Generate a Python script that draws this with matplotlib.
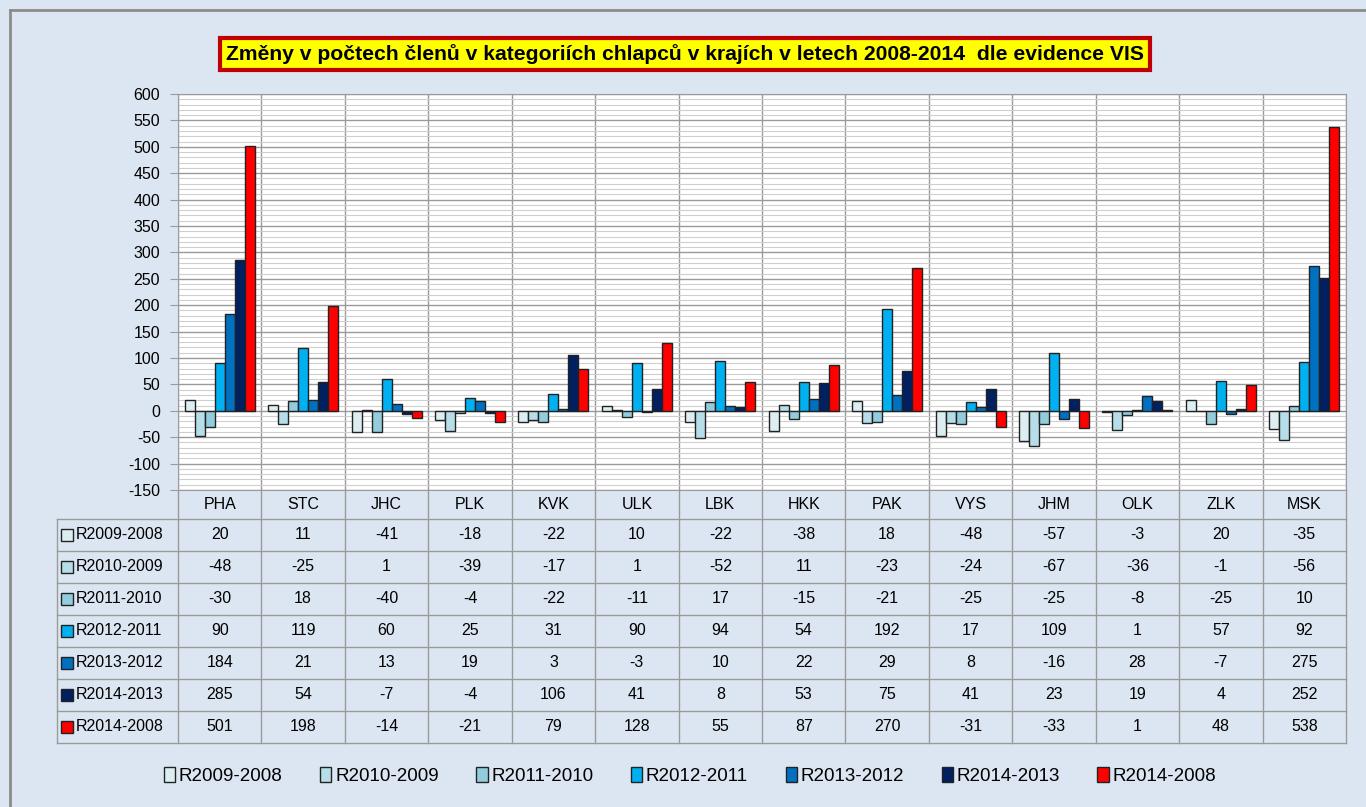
import matplotlib.pyplot as plt
import numpy as np
from matplotlib.lines import Line2D
from matplotlib.patches import Patch
from matplotlib.ticker import MultipleLocator

plt.rcParams['font.family'] = ['Liberation Sans', 'DejaVu Sans']
plt.rcParams['axes.unicode_minus'] = False

regions = ["PHA", "STC", "JHC", "PLK", "KVK", "ULK", "LBK",
           "HKK", "PAK", "VYS", "JHM", "OLK", "ZLK", "MSK"]
series_names = ["R2009-2008", "R2010-2009", "R2011-2010", "R2012-2011",
                "R2013-2012", "R2014-2013", "R2014-2008"]
r2009_2008 = [20, 11, -41, -18, -22, 10, -22, -38, 18, -48, -57, -3, 20, -35]
r2010_2009 = [-48, -25, 1, -39, -17, 1, -52, 11, -23, -24, -67, -36, -1, -56]
r2011_2010 = [-30, 18, -40, -4, -22, -11, 17, -15, -21, -25, -25, -8, -25, 10]
r2012_2011 = [90, 119, 60, 25, 31, 90, 94, 54, 192, 17, 109, 1, 57, 92]
r2013_2012 = [184, 21, 13, 19, 3, -3, 10, 22, 29, 8, -16, 28, -7, 275]
r2014_2013 = [285, 54, -7, -4, 106, 41, 8, 53, 75, 41, 23, 19, 4, 252]
r2014_2008 = [501, 198, -14, -21, 79, 128, 55, 87, 270, -31, -33, 1, 48, 538]
series_values = [r2009_2008, r2010_2009, r2011_2010, r2012_2011,
                 r2013_2012, r2014_2013, r2014_2008]
colors = ["#DDEEF3", "#B7DDE8", "#93CDDD", "#00B0F0",
          "#0070C0", "#002060", "#FF0000"]
title = "Změny v počtech členů v kategoriích chlapců v krajích v letech 2008-2014  dle evidence VIS"

W, H = 1366, 807
GRID = "#9A9A9A"


def px(x0, y0, x1, y1):
    return [x0 / W, 1 - y1 / H, (x1 - x0) / W, (y1 - y0) / H]


fig = plt.figure(figsize=(W / 100, H / 100), dpi=100)
fig.patch.set_facecolor("#DCE6F2")

# outer frame (left and top edges visible)
fig.add_artist(Line2D([10 / W, 10 / W], [0, 1 - 10 / H], color="#8C8C8C", lw=2))
fig.add_artist(Line2D([10 / W, 1], [1 - 10 / H, 1 - 10 / H], color="#8C8C8C", lw=2))

# main chart
ax = fig.add_axes(px(178, 94, 1346, 490))
ax.set_facecolor("white")
n = len(regions)
k = len(series_values)
x = np.arange(n)
width = 0.12
for i, (vals, col) in enumerate(zip(series_values, colors)):
    ax.bar(x + (i - (k - 1) / 2) * width, vals, width, color=col,
           edgecolor="#222222", linewidth=1.0, zorder=3)

ax.set_xlim(-0.5, n - 0.5)
ax.set_ylim(-150, 600)
ax.yaxis.set_major_locator(MultipleLocator(50))
ax.yaxis.set_minor_locator(MultipleLocator(10))
ax.grid(which="minor", axis="y", color="#CFCFCF", lw=0.8, zorder=0)
ax.grid(which="major", axis="y", color=GRID, lw=1.0, zorder=1)
for b in np.arange(-0.5, n):
    ax.axvline(b, color=GRID, lw=1.0, zorder=1)
ax.set_xticks([])
ax.tick_params(axis="y", which="major", length=6, color=GRID, labelsize=11.5, pad=7)
ax.tick_params(axis="y", which="minor", length=0)
for s in ax.spines.values():
    s.set_color(GRID)

# data table under the chart
tax = fig.add_axes(px(57, 490, 1346, 744))
unit = (1346 - 178) / n
left = -0.5 - (178 - 57) / unit
tax.set_xlim(left, n - 0.5)
tax.set_ylim(744, 490)
tax.axis("off")
row_top = 519
row_h = 32
for j in range(k + 1):
    y = row_top + j * row_h
    tax.plot([left, n - 0.5], [y, y], color=GRID, lw=1.0, clip_on=False)
tax.plot([left, left], [row_top, row_top + k * row_h], color=GRID, lw=1.0, clip_on=False)
for b in np.arange(-0.5, n):
    tax.plot([b, b], [490, row_top + k * row_h], color=GRID, lw=1.0, clip_on=False)
for c, reg in enumerate(regions):
    tax.text(c, 505, reg, ha="center", va="center", fontsize=11.5)
for j, (name, vals, col) in enumerate(zip(series_names, series_values, colors)):
    yc = row_top + j * row_h + row_h / 2
    tax.plot(left + 0.12, yc, "s", ms=8, mfc=col, mec="#222222", mew=1.0, clip_on=False)
    tax.text(left + 0.22, yc, name, ha="left", va="center", fontsize=11.5)
    for c, v in enumerate(vals):
        tax.text(c, yc, str(v), ha="center", va="center", fontsize=11.5)

# title box
fig.text(685 / W, 1 - 54 / H, title, ha="center", va="center", fontsize=15.2,
         fontweight="bold",
         bbox=dict(boxstyle="square,pad=0.3", fc="#FFFF00", ec="#C00000", lw=3))

# legend
handles = [Patch(facecolor=c, edgecolor="#222222", label=nm)
           for c, nm in zip(colors, series_names)]
fig.legend(handles=handles, loc="center", ncol=k,
           bbox_to_anchor=(690 / W, 1 - 776 / H), frameon=False, fontsize=13.5,
           handlelength=0.6, handleheight=0.9, handletextpad=0.2, columnspacing=2.0)

fig.savefig("out.png", dpi=100, facecolor=fig.get_facecolor())
